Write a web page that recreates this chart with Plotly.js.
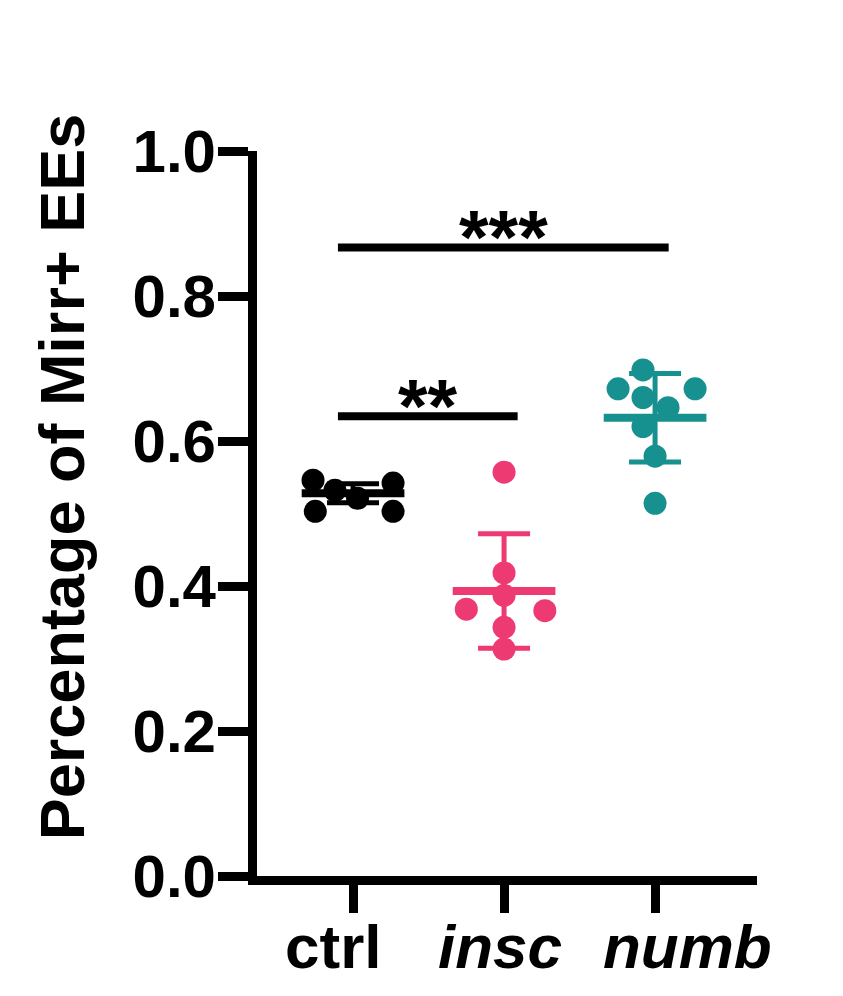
<!DOCTYPE html>
<html>
<head>
<meta charset="utf-8">
<script src="https://cdn.plot.ly/plotly-3.0.1.min.js"></script>
<style>html,body{margin:0;padding:0;background:#fff;}#chart{width:843px;height:996px;}</style>
</head>
<body>
<div id="chart"></div>
<script>
// ---- data ----
const categories = ['ctrl', 'insc', 'numb'];
const tickLabels = ['ctrl', '<i>insc</i>', '<i>numb</i>'];
const yTicks = [0.0, 0.2, 0.4, 0.6, 0.8, 1.0];

const ctrlValues = [0.546, 0.503, 0.532, 0.521, 0.542, 0.503];
const inscValues = [0.557, 0.418, 0.387, 0.368, 0.366, 0.343, 0.313];
const numbValues = [0.698, 0.672, 0.672, 0.660, 0.646, 0.620, 0.579, 0.514];

// horizontal scatter offsets of the points (category units)
const ctrlJitter = [-0.265, -0.25, -0.12, 0.03, 0.265, 0.265];
const inscJitter = [0, 0, 0, -0.25, 0.27, 0, 0];
const numbJitter = [-0.08, -0.245, 0.265, -0.08, 0.086, -0.08, 0, 0];

const groupMeans = [0.528, 0.393, 0.632];
const groupSDs = [0.013, 0.079, 0.061];

const sigPairs = [[0, 1], [0, 2]];
const sigHeights = [0.634, 0.867];
const sigLabels = ['**', '***'];

// ---- styles ----
const colors = ['#000000', '#EE3A72', '#17918F'];
const FONT = 'Liberation Sans, Arial, Helvetica, sans-serif';
const labelShifts = [-20, -4, 32];   // px offsets of category labels

const groups = [
  {vals: ctrlValues, jit: ctrlJitter},
  {vals: inscValues, jit: inscJitter},
  {vals: numbValues, jit: numbJitter}
];

const traces = [];
groups.forEach((g, i) => {
  traces.push({
    type: 'scatter', mode: 'markers',
    x: g.vals.map((v, k) => i + g.jit[k]),
    y: g.vals,
    marker: {size: 23, color: colors[i], line: {width: 0}},
    hoverinfo: 'y', showlegend: false
  });
});
groups.forEach((g, i) => {
  traces.push({
    type: 'scatter', mode: 'markers',
    x: [i], y: [groupMeans[i]],
    marker: {size: 1, color: colors[i], opacity: 0},
    error_x: {type: 'constant', value: 0.34, width: 0, thickness: 8, color: colors[i]},
    error_y: {type: 'data', array: [groupSDs[i]], width: 26, thickness: 5, color: colors[i]},
    hoverinfo: 'skip', showlegend: false
  });
});

const shapes = [];
const annotations = [];
sigPairs.forEach((p, j) => {
  const x0 = p[0] - 0.1, x1 = p[1] + 0.09;
  shapes.push({type: 'line', xref: 'x', yref: 'y', x0: x0, x1: x1,
    y0: sigHeights[j], y1: sigHeights[j], line: {color: '#000', width: 8}});
  annotations.push({xref: 'x', yref: 'y', x: (x0 + x1) / 2, y: sigHeights[j],
    text: sigLabels[j], showarrow: false, xanchor: 'center', yanchor: 'middle',
    yshift: 11, font: {family: FONT, size: 76, color: '#000', weight: 'bold'}});
});
categories.forEach((c, i) => {
  annotations.push({xref: 'x', yref: 'paper', x: i, y: 0, xshift: labelShifts[i], yshift: -70,
    text: tickLabels[i], showarrow: false, xanchor: 'center', yanchor: 'middle',
    font: {family: FONT, size: 62, color: '#000', weight: 'bold'}});
});
annotations.push({xref: 'paper', yref: 'paper', x: 0, y: 0.550, xshift: -195,
  text: 'Percentage of Mirr+ EEs', textangle: -90, showarrow: false,
  xanchor: 'center', yanchor: 'middle',
  font: {family: FONT, size: 63, color: '#000', weight: 'bold'}});

const layout = {
  width: 843, height: 996,
  margin: {l: 257, r: 86, t: 151, b: 120, pad: 0},
  paper_bgcolor: '#fff', plot_bgcolor: '#fff',
  showlegend: false,
  xaxis: {
    range: [-0.636, 2.675], tickmode: 'array',
    tickvals: categories.map((c, i) => i), ticktext: tickLabels,
    showticklabels: false,
    showgrid: false, zeroline: false, showline: true, linecolor: '#000', linewidth: 9,
    ticks: 'outside', ticklen: 28, tickwidth: 9, tickcolor: '#000',
    fixedrange: true
  },
  yaxis: {
    range: [0, 1], tickmode: 'array', tickvals: yTicks,
    ticktext: yTicks.map(v => v.toFixed(1)),
    showgrid: false, zeroline: false, showline: true, linecolor: '#000', linewidth: 9,
    ticks: 'outside', ticklen: 30, tickwidth: 9, tickcolor: '#000',
    ticklabelstandoff: -10,
    tickfont: {family: FONT, size: 60, color: '#000', weight: 'bold'},
    fixedrange: true
  },
  shapes: shapes,
  annotations: annotations
};

Plotly.newPlot('chart', traces, layout, {displayModeBar: false, staticPlot: true});
</script>
</body>
</html>
